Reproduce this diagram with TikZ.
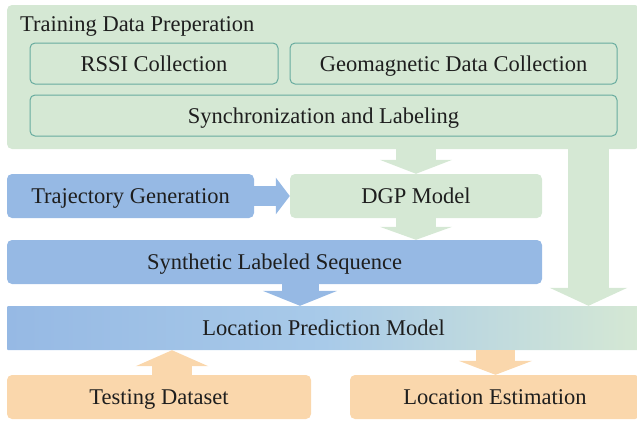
\documentclass[tikz,border=0pt]{standalone}
\usepackage{fontspec}
\setmainfont{Liberation Serif}
\usetikzlibrary{arrows.meta}
\definecolor{gfill}{HTML}{D5E8D4}
\definecolor{gline}{HTML}{67AB9F}
\definecolor{bfill}{HTML}{96B9E4}
\definecolor{bmid}{HTML}{A8CAE9}
\definecolor{ofill}{HTML}{FAD7AC}
\definecolor{txt}{HTML}{1E1E1E}
\begin{document}
\begin{tikzpicture}[x=1pt,y=-1pt,
  every node/.style={font=\fontsize{22.5}{27}\selectfont, text=txt},
  base/.style={inner sep=0pt, text height=15pt, text depth=0pt, rounded corners=5pt},
  gbox/.style={base, fill=gfill},
  ibox/.style={base, fill=gfill, draw=gline, line width=1pt},
  bbox/.style={base, fill=bfill},
  obox/.style={base, fill=ofill},
  blk/.style n args={4}{draw=#1, line width=#2, line cap=butt,
     -{Triangle[width=#3, length=#4]}}
]
\useasboundingbox (0,0) rectangle (637,424);
\clip (0,0) rectangle (637,424);

% top group
\node[gbox, minimum width=633pt, minimum height=144pt] (train) at (323.5,77) {};
\node[anchor=base west, inner sep=0pt] (title) at (20,31.5) {Training Data Preperation};
\node[ibox, minimum width=248pt, minimum height=41pt] (rssi) at (154,63.5) {RSSI Collection};
\node[ibox, minimum width=327pt, minimum height=41pt] (geo) at (453.5,63.5) {Geomagnetic Data Collection};
\node[ibox, minimum width=587pt, minimum height=41pt] (sync) at (323.5,115.5) {Synchronization and Labeling};

% middle
\node[bbox, minimum width=247pt, minimum height=44pt] (traj) at (130.5,196) {Trajectory Generation};
\node[gbox, minimum width=252pt, minimum height=44pt] (dgp) at (416,196) {DGP Model};
\node[bbox, minimum width=535pt, minimum height=44pt] (synth) at (274.5,262) {Synthetic Labeled Sequence};
\node[base, rounded corners=1pt, minimum width=633pt, minimum height=44pt,
      shading=axis, left color=bfill, right color=gfill, middle color=bmid] (lpm) at (323.5,328) {Location Prediction Model};
\node[obox, minimum width=304pt, minimum height=44pt] (test) at (159,397) {Testing Dataset};
\node[obox, minimum width=290pt, minimum height=44pt] (loc) at (495,397) {Location Estimation};

% connector x positions
\coordinate (rg) at (588.5,0);
\coordinate (sl) at (300,0);
\coordinate (tl) at (172,0);
\coordinate (ll) at (495.5,0);

% block arrows
\draw[blk={gfill}{40pt}{72pt}{14pt}] (dgp.north |- train.south) -- (dgp.north);
\draw[blk={gfill}{40pt}{72pt}{13pt}] (dgp.south) -- (dgp.south |- synth.north);
\draw[blk={gfill}{41pt}{77pt}{18pt}] (rg |- train.south) -- (rg |- lpm.north);
\draw[blk={bfill}{20pt}{36pt}{14pt}] (traj.east) -- (dgp.west);
\draw[blk={bfill}{37pt}{74pt}{15pt}] (sl |- synth.south) -- (sl |- lpm.north);
\draw[blk={ofill}{40pt}{72pt}{16pt}] (tl |- test.north) -- (tl |- lpm.south);
\draw[blk={ofill}{39pt}{73pt}{14pt}] (ll |- lpm.south) -- (ll |- loc.north);
\end{tikzpicture}
\end{document}
